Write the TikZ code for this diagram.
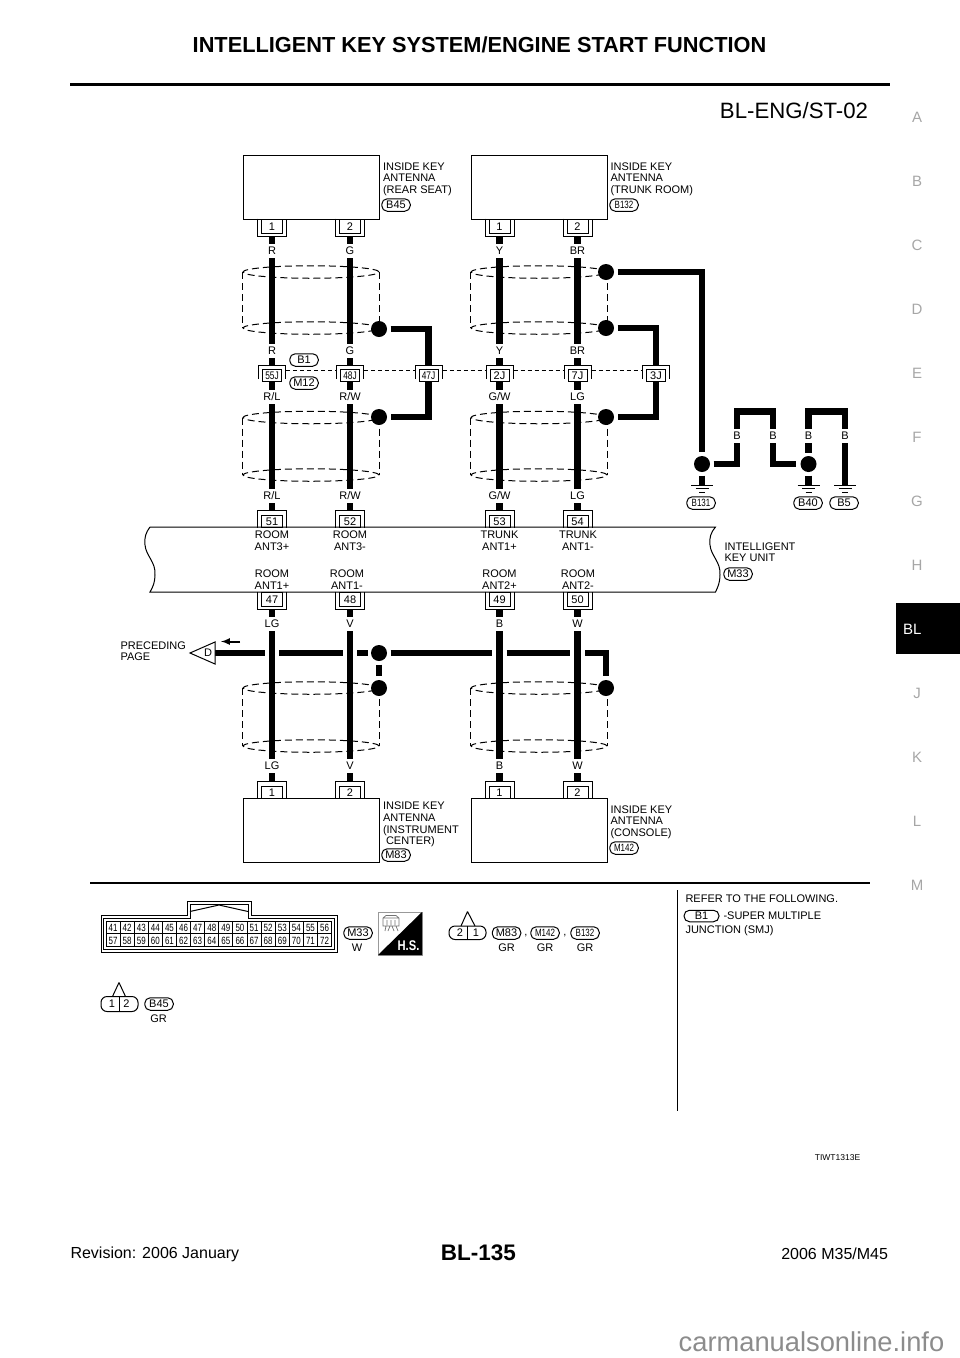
\documentclass[tikz,border=0pt]{standalone}
\usepackage{fontspec}
\setmainfont{Liberation Sans}
\newfontfamily\narrowfont[FakeStretch=0.76]{Liberation Sans}
\newfontfamily\narrowbold[FakeStretch=0.8]{Liberation Sans Bold}
\usetikzlibrary{shapes.geometric}
\begin{document}
\begin{tikzpicture}[x=1pt,y=-1pt,line width=1pt,
  txt/.style={font=\fontsize{11}{11.7}\selectfont,inner sep=0pt,align=left,anchor=north west},
  unittxt/.style={font=\fontsize{11}{11.7}\selectfont,inner sep=0pt,align=center},
  wlabel/.style={font=\fontsize{11}{12}\selectfont,fill=white,inner xsep=1pt,inner ysep=0pt,minimum height=14pt},
  sideletter/.style={font=\fontsize{15}{16}\selectfont,text=black!35},
  unitbox/.style={draw,minimum width=136pt,minimum height=64pt,inner sep=0pt},
  pinbox/.style={draw,fill=white,inner sep=0pt,minimum width=21pt,minimum height=14pt,text height=8pt,text depth=0pt,font=\fontsize{11}{12}\selectfont},
  jctbox/.style={draw,fill=white,inner sep=0pt,minimum width=19pt,minimum height=12pt,text height=8pt,text depth=0pt,font=\narrowfont\fontsize{11}{12}\selectfont},
  hooddn/.style={append after command={\pgfextra{\draw ([shift={(-3.5,0)}]\tikzlastnode.north west) -- ([shift={(-3.5,3)}]\tikzlastnode.south west) -- ([shift={(3.5,3)}]\tikzlastnode.south east) -- ([shift={(3.5,0)}]\tikzlastnode.north east);}}},
  hoodup/.style={append after command={\pgfextra{\draw ([shift={(-3.5,0)}]\tikzlastnode.south west) -- ([shift={(-3.5,-4.5)}]\tikzlastnode.north west) -- ([shift={(3.5,-4.5)}]\tikzlastnode.north east) -- ([shift={(3.5,0)}]\tikzlastnode.south east);}}},
  hoodj/.style={append after command={\pgfextra{\draw ([shift={(-3.5,-3)}]\tikzlastnode.south west) -- ([shift={(-3.5,-4)}]\tikzlastnode.north west) -- ([shift={(3.5,-4)}]\tikzlastnode.north east) -- ([shift={(3.5,-3)}]\tikzlastnode.south east);}}},
  pill/.style={draw,rounded corners=5.5pt,inner sep=0pt,minimum width=28.5pt,minimum height=12.5pt,font=\fontsize{11}{12}\selectfont},
  pillsmall/.style={pill,font=\narrowfont\fontsize{10.5}{12}\selectfont},
  dot/.style={circle,fill=black,inner sep=0pt,minimum size=16pt},
  shield/.style={draw,ellipse,inner sep=0pt,minimum width=136pt,minimum height=12.5pt,dash pattern=on 7pt off 4pt},
  shieldside/.style={dash pattern=on 7pt off 4pt},
  jctline/.style={dash pattern=on 4pt off 3pt},
  wire/.style={line width=6.6pt,shorten <=3pt,shorten >=4pt},
  wirebare/.style={wire,shorten <=0pt,shorten >=0pt},
  gnd/.style={inner sep=0pt,minimum size=0pt,append after command={\pgfextra{\draw ([shift={(-11,0)}]\tikzlastnode.center) -- ([shift={(11,0)}]\tikzlastnode.center) ([shift={(-6.5,3.5)}]\tikzlastnode.center) -- ([shift={(6.5,3.5)}]\tikzlastnode.center) ([shift={(-3,7.5)}]\tikzlastnode.center) -- ([shift={(3,7.5)}]\tikzlastnode.center);}}},
  cell/.style={draw,inner sep=0pt,minimum width=14.1pt,minimum height=12.8pt,text height=7.6pt,text depth=0pt,font=\narrowfont\fontsize{10.5}{12}\selectfont}]
\useasboundingbox (0,0) rectangle (960,1358);
\node[font=\bfseries\fontsize{21.75}{24}\selectfont] (title) at (479.5,45) {INTELLIGENT KEY SYSTEM/ENGINE START FUNCTION};
\draw[line width=3pt] (70,84) -- (890,84);
\node[font=\fontsize{22.2}{24}\selectfont,anchor=east,inner sep=0pt] (page) at (868.5,111) {BL-ENG/ST-02};
\node[sideletter] (sA) at (917,117) {A};
\node[sideletter] (sB) at (917,181) {B};
\node[sideletter] (sC) at (917,245) {C};
\node[sideletter] (sD) at (917,309) {D};
\node[sideletter] (sE) at (917,373) {E};
\node[sideletter] (sF) at (917,437) {F};
\node[sideletter] (sG) at (917,501) {G};
\node[sideletter] (sH) at (917,565) {H};
\node[fill=black,inner sep=0pt,minimum width=64pt,minimum height=51pt] (tab) at (928,628.5) {};
\node[font=\fontsize{15}{16}\selectfont,text=white,anchor=west,inner sep=0pt] (tabBL) at (902.5,629) {BL};
\node[sideletter] (sJ) at (917,693) {J};
\node[sideletter] (sK) at (917,757) {K};
\node[sideletter] (sL) at (917,821) {L};
\node[sideletter] (sM) at (917,885) {M};
\node[unitbox] (b45) at (311,187) {};
\node[unitbox] (b132) at (539,187) {};
\node[unitbox] (m83) at (311,830) {};
\node[unitbox] (m142) at (539,830) {};
\node[pinbox,hooddn] (b45a) at (272,226) {1};
\node[pinbox,hooddn] (b45b) at (350,226) {2};
\node[pinbox,hooddn] (b132a) at (499.5,226) {1};
\node[pinbox,hooddn] (b132b) at (577.5,226) {2};
\node[jctbox,hoodj] (j55) at (272,375.5) {55J};
\node[jctbox,hoodj] (j48) at (350,375.5) {48J};
\node[jctbox,hoodj] (j47) at (428.5,375.5) {47J};
\node[jctbox,hoodj,font=\fontsize{11}{12}\selectfont] (j2) at (499.5,375.5) {2J};
\node[jctbox,hoodj,font=\fontsize{11}{12}\selectfont] (j7) at (577.5,375.5) {7J};
\node[jctbox,hoodj,font=\fontsize{11}{12}\selectfont] (j3) at (656,375.5) {3J};
\node[pinbox,hoodup,minimum height=12pt] (p51) at (272,521) {51};
\node[pinbox,hoodup,minimum height=12pt] (p52) at (350,521) {52};
\node[pinbox,hoodup,minimum height=12pt] (p53) at (499.5,521) {53};
\node[pinbox,hoodup,minimum height=12pt] (p54) at (577.5,521) {54};
\node[pinbox,hooddn] (p47) at (272,599) {47};
\node[pinbox,hooddn] (p48) at (350,599) {48};
\node[pinbox,hooddn] (p49) at (499.5,599) {49};
\node[pinbox,hooddn] (p50) at (577.5,599) {50};
\node[pinbox,hoodup,minimum height=12pt] (m83a) at (272,792) {1};
\node[pinbox,hoodup,minimum height=12pt] (m83b) at (350,792) {2};
\node[pinbox,hoodup,minimum height=12pt] (m142a) at (499.5,792) {1};
\node[pinbox,hoodup,minimum height=12pt] (m142b) at (577.5,792) {2};
\draw (150,527) -- (715.5,527) .. controls (711,532) and (709,538) .. (710,545) .. controls (711,556) and (721,562) .. (720,575) .. controls (720,582) and (718,587) .. (715.5,592) -- (150,592) .. controls (153,587) and (155,582) .. (155,575) .. controls (156,562) and (146,556) .. (145,545) .. controls (144,538) and (146,532) .. (150,527);
\node[shield] (s1a) at (311,272) {};
\node[shield] (s1b) at (311,328) {};
\node[shield] (s2a) at (539,272) {};
\node[shield] (s2b) at (539,328) {};
\node[shield] (s3a) at (311,417.5) {};
\node[shield] (s3b) at (311,475) {};
\node[shield] (s4a) at (539,417.5) {};
\node[shield] (s4b) at (539,475) {};
\node[shield] (s5a) at (311,688) {};
\node[shield] (s5b) at (311,746) {};
\node[shield] (s6a) at (539,688) {};
\node[shield] (s6b) at (539,746) {};
\draw[shieldside] (s1a.west) -- (s1b.west);
\draw[shieldside] (s1a.east) -- (s1b.east);
\draw[shieldside] (s2a.west) -- (s2b.west);
\draw[shieldside] (s2a.east) -- (s2b.east);
\draw[shieldside] (s3a.west) -- (s3b.west);
\draw[shieldside] (s3a.east) -- (s3b.east);
\draw[shieldside] (s4a.west) -- (s4b.west);
\draw[shieldside] (s4a.east) -- (s4b.east);
\draw[shieldside] (s5a.west) -- (s5b.west);
\draw[shieldside] (s5a.east) -- (s5b.east);
\draw[shieldside] (s6a.west) -- (s6b.west);
\draw[shieldside] (s6a.east) -- (s6b.east);
\draw[jctline] ([shift={(4,1.5)}]j55.north east) -- ([shift={(-4,1.5)}]j48.north west);
\draw[jctline] ([shift={(4,1.5)}]j48.north east) -- ([shift={(-4,1.5)}]j47.north west);
\draw[jctline] ([shift={(4,1.5)}]j47.north east) -- ([shift={(-4,1.5)}]j2.north west);
\draw[jctline] ([shift={(4,1.5)}]j2.north east) -- ([shift={(-4,1.5)}]j7.north west);
\draw[jctline] ([shift={(4,1.5)}]j7.north east) -- ([shift={(-4,1.5)}]j3.north west);
\node[dot] (d1) at (379,329) {};
\node[dot] (d2) at (379,417) {};
\node[dot] (d3) at (606,272) {};
\node[dot] (d4) at (606,328) {};
\node[dot] (d5) at (606,417) {};
\node[dot] (d6) at (702,464) {};
\node[dot] (d7) at (808.5,464) {};
\node[dot] (d8) at (379,653) {};
\node[dot] (d9) at (379,688) {};
\node[dot] (d10) at (606,688) {};
\node[gnd] (g131) at (702,485) {};
\node[gnd] (g40) at (808.5,485) {};
\node[gnd] (g5) at (845,485) {};
\coordinate (c1) at (737,411.5);
\coordinate (c2) at (773,411.5);
\coordinate (c3) at (808.5,411.5);
\coordinate (c4) at (845,411.5);
\coordinate (hD) at (215,653);
\coordinate (h1) at (265,653);
\coordinate (h2) at (279,653);
\coordinate (h3) at (343,653);
\coordinate (h4) at (357,653);
\coordinate (h5) at (492,653);
\coordinate (h6) at (506.5,653);
\coordinate (h7) at (570,653);
\coordinate (h8) at (585,653);
\coordinate (h9) at (606,653);
\coordinate (a1) at (240,641.5);
\coordinate (a2) at (221,641.5);
\draw[wire] (b45a) -- (j55);
\draw[wire] (b45b) -- (j48);
\draw[wire] (b132a) -- (j2);
\draw[wire] (b132b) -- (j7);
\draw[wire,shorten <=0pt] (j55) -- (p51);
\draw[wire,shorten <=0pt] (j48) -- (p52);
\draw[wire,shorten <=0pt] (j2) -- (p53);
\draw[wire,shorten <=0pt] (j7) -- (p54);
\draw[wire] (p47) -- (m83a);
\draw[wire] (p48) -- (m83b);
\draw[wire] (p49) -- (m142a);
\draw[wire] (p50) -- (m142b);
\draw[wire] (d1) -| (j47);
\draw[wire,shorten <=0pt,shorten >=3pt] (j47) |- (d2);
\draw[wire] (d3) -| (d6);
\draw[wire] (d4) -| (j3);
\draw[wire,shorten <=0pt,shorten >=3pt] (j3) |- (d5);
\draw[wire] (d6) -| (c1) -- (c2) |- (d7);
\draw[wire,shorten >=0pt] (d7) -- (c3) -- (c4) -- (g5);
\draw[wire,shorten >=0pt] (d6) -- (g131);
\draw[wire,shorten >=0pt] (d7) -- (g40);
\draw[wirebare] (hD) -- (h1);
\draw[wirebare] (h2) -- (h3);
\draw[wirebare,shorten >=3pt] (h4) -- (d8);
\draw[wirebare,shorten <=3pt] (d8) -- (h5);
\draw[wirebare] (h6) -- (h7);
\draw[wirebare,shorten >=4pt] (h8) -- (h9) -- (d10);
\draw[wire] (d8) -- (d9);
\draw[line width=2pt,-latex] (a1) -- (a2);
\draw[fill=white] (190,653) -- (215,642) -- (215,664) -- cycle;
\node[font=\fontsize{11}{12}\selectfont,inner sep=0pt] (tD) at (208,653) {D};
\node[wlabel] (l1) at (272,251) {R};
\node[wlabel] (l2) at (350,251) {G};
\node[wlabel] (l3) at (499.5,251) {Y};
\node[wlabel] (l4) at (577.5,251) {BR};
\node[wlabel] (l5) at (272,351) {R};
\node[wlabel] (l6) at (350,351) {G};
\node[wlabel] (l7) at (499.5,351) {Y};
\node[wlabel] (l8) at (577.5,351) {BR};
\node[wlabel] (l9) at (272,397) {R/L};
\node[wlabel] (l10) at (350,397) {R/W};
\node[wlabel] (l11) at (499.5,397) {G/W};
\node[wlabel] (l12) at (577.5,397) {LG};
\node[wlabel] (l13) at (272,496) {R/L};
\node[wlabel] (l14) at (350,496) {R/W};
\node[wlabel] (l15) at (499.5,496) {G/W};
\node[wlabel] (l16) at (577.5,496) {LG};
\node[wlabel] (l17) at (272,624) {LG};
\node[wlabel] (l18) at (350,624) {V};
\node[wlabel] (l19) at (499.5,624) {B};
\node[wlabel] (l20) at (577.5,624) {W};
\node[wlabel] (l21) at (272,766) {LG};
\node[wlabel] (l22) at (350,766) {V};
\node[wlabel] (l23) at (499.5,766) {B};
\node[wlabel] (l24) at (577.5,766) {W};
\node[wlabel] (l25) at (737,436) {B};
\node[wlabel] (l26) at (773,436) {B};
\node[wlabel] (l27) at (808.5,436) {B};
\node[wlabel] (l28) at (845,436) {B};
\node[unittxt] (u51) at (272,541) {ROOM\\ANT3+};
\node[unittxt] (u52) at (350,541) {ROOM\\ANT3-};
\node[unittxt] (u53) at (499.5,541) {TRUNK\\ANT1+};
\node[unittxt] (u54) at (578,541) {TRUNK\\ANT1-};
\node[unittxt] (u47) at (272,580) {ROOM\\ANT1+};
\node[unittxt] (u48) at (347,580) {ROOM\\ANT1-};
\node[unittxt] (u49) at (499.5,580) {ROOM\\ANT2+};
\node[unittxt] (u50) at (578,580) {ROOM\\ANT2-};
\node[txt] (tb45) at (382.5,162) {INSIDE KEY\\ANTENNA\\(REAR SEAT)};
\node[pill] (pb45) at (396,205) {B45};
\node[txt] (tb132) at (610,162) {INSIDE KEY\\ANTENNA\\(TRUNK ROOM)};
\node[pillsmall] (pb132) at (624,205) {B132};
\node[pill] (pb1) at (304,360) {B1};
\node[pill] (pm12) at (304,383) {M12};
\node[txt] (tunit) at (724,542) {INTELLIGENT\\KEY UNIT};
\node[pill] (pm33) at (738,574) {M33};
\node[pillsmall] (pb131) at (701,503) {B131};
\node[pill] (pb40) at (808,503) {B40};
\node[pill] (pb5) at (844,503) {B5};
\node[txt] (tprec) at (120,641) {PRECEDING\\PAGE};
\node[txt] (tm83) at (382.5,801.5) {INSIDE KEY\\ANTENNA\\(INSTRUMENT\\\hspace*{3pt}CENTER)};
\node[pill] (pm83) at (396,855) {M83};
\node[txt] (tm142) at (610,805) {INSIDE KEY\\ANTENNA\\(CONSOLE)};
\node[pillsmall] (pm142) at (624,848) {M142};
\draw[line width=2pt] (90,883) -- (870,883);
\draw (677,890) -- (677,1111);
\draw (101,915) -- (187,915) -- (187,901) -- (251,901) -- (251,915) -- (337,915) -- (337,952) -- (101,952) -- cycle;
\draw (103.5,918) -- (190,918) -- (190,904) -- (248,904) -- (248,918) -- (334.5,918) -- (334.5,949.5) -- (103.5,949.5) -- cycle;
\draw (190,911.5) -- (219,905) -- (248,911.5);
\foreach \n in {41,...,56} \node[cell] (c\n) at ({113.05+14.1*(\n-41)},927.4) {\n};
\foreach \n in {57,...,72} \node[cell] (c\n) at ({113.05+14.1*(\n-57)},940.2) {\n};
\node[pill] (cm33) at (358,933) {M33};
\node[font=\fontsize{11}{12}\selectfont,inner sep=0pt] (cm33w) at (357,947.5) {W};
\draw[line width=.8pt,black!40] (378,912) rectangle (422,955);
\fill (422,912) -- (422,955) -- (378,955) -- cycle;
\node[font=\narrowbold\fontsize{14}{15}\selectfont,text=white,inner sep=0pt] (hs) at (408.5,946) {H.S.};
\draw[line width=.7pt,black!55] (383,918) -- (386,915.5) -- (396,915.5) -- (399,918) -- (399,926) -- (383,926) -- cycle (383,918) -- (399,918) (386,926) -- (385,931) (390,926) -- (388,931) (392,926) -- (394,931) (396,926) -- (398,931) (387,920) -- (387,925) (391,920) -- (391,925) (395,920) -- (395,925);
\draw (119,982.5) -- (112.5,996.5) (119,982.5) -- (125.5,996.5);
\draw[rounded corners=6pt] (101,996.5) rectangle (138,1011.5);
\draw (119.5,996.5) -- (119.5,1011.5);
\node[font=\fontsize{11}{12}\selectfont,inner sep=0pt] (c1n) at (112,1004) {1};
\node[font=\fontsize{11}{12}\selectfont,inner sep=0pt] (c2n) at (126.5,1004) {2};
\node[pill] (cb45) at (159,1004) {B45};
\node[font=\fontsize{11}{12}\selectfont,inner sep=0pt] (cb45g) at (158.5,1019) {GR};
\draw (467.5,911.5) -- (461,926) (467.5,911.5) -- (475,926);
\draw[rounded corners=6pt] (449,926) rectangle (486,939.5);
\draw (467.5,926) -- (467.5,939.5);
\node[font=\fontsize{11}{12}\selectfont,inner sep=0pt] (d2n) at (460,933) {2};
\node[font=\fontsize{11}{12}\selectfont,inner sep=0pt] (d1n) at (476,933) {1};
\node[pill] (cm83) at (506.5,933) {M83};
\node[pillsmall] (cm142) at (545,933) {M142};
\node[pillsmall] (cb132) at (585,933) {B132};
\node[font=\fontsize{11}{12}\selectfont,inner sep=0pt] (cg1) at (506.5,947.5) {GR};
\node[font=\fontsize{11}{12}\selectfont,inner sep=0pt] (cg2) at (545,947.5) {GR};
\node[font=\fontsize{11}{12}\selectfont,inner sep=0pt] (cg3) at (585,947.5) {GR};
\node[font=\fontsize{11}{12}\selectfont,inner sep=0pt] (cc1) at (526,936) {,};
\node[font=\fontsize{11}{12}\selectfont,inner sep=0pt] (cc2) at (565,936) {,};
\node[txt] (trefer) at (685,894) {REFER TO THE FOLLOWING.};
\node[pill,minimum width=35pt,minimum height=11.5pt] (rb1) at (701.5,916) {B1};
\node[txt,anchor=west] (rsmj) at (723,916) {-SUPER MULTIPLE};
\node[txt] (rjunc) at (685,925) {JUNCTION (SMJ)};
\node[font=\fontsize{8.5}{9}\selectfont,inner sep=0pt] (code) at (837.5,1157.5) {TIWT1313E};
\node[font=\bfseries\fontsize{22.5}{24}\selectfont,inner sep=0pt] (pagenum) at (478.5,1253) {BL-135};
\node[font=\fontsize{16}{18}\selectfont,anchor=west,inner sep=0pt] (rev) at (70,1254) {Revision: 2006 January};
\node[font=\fontsize{16}{18}\selectfont,anchor=east,inner sep=0pt] (model) at (888.5,1254) {2006 M35/M45};
\node[font=\fontsize{27.3}{30}\selectfont,text=black!45,inner sep=0pt] (mark) at (811.5,1342) {carmanualsonline.info};
\end{tikzpicture}
\end{document}
